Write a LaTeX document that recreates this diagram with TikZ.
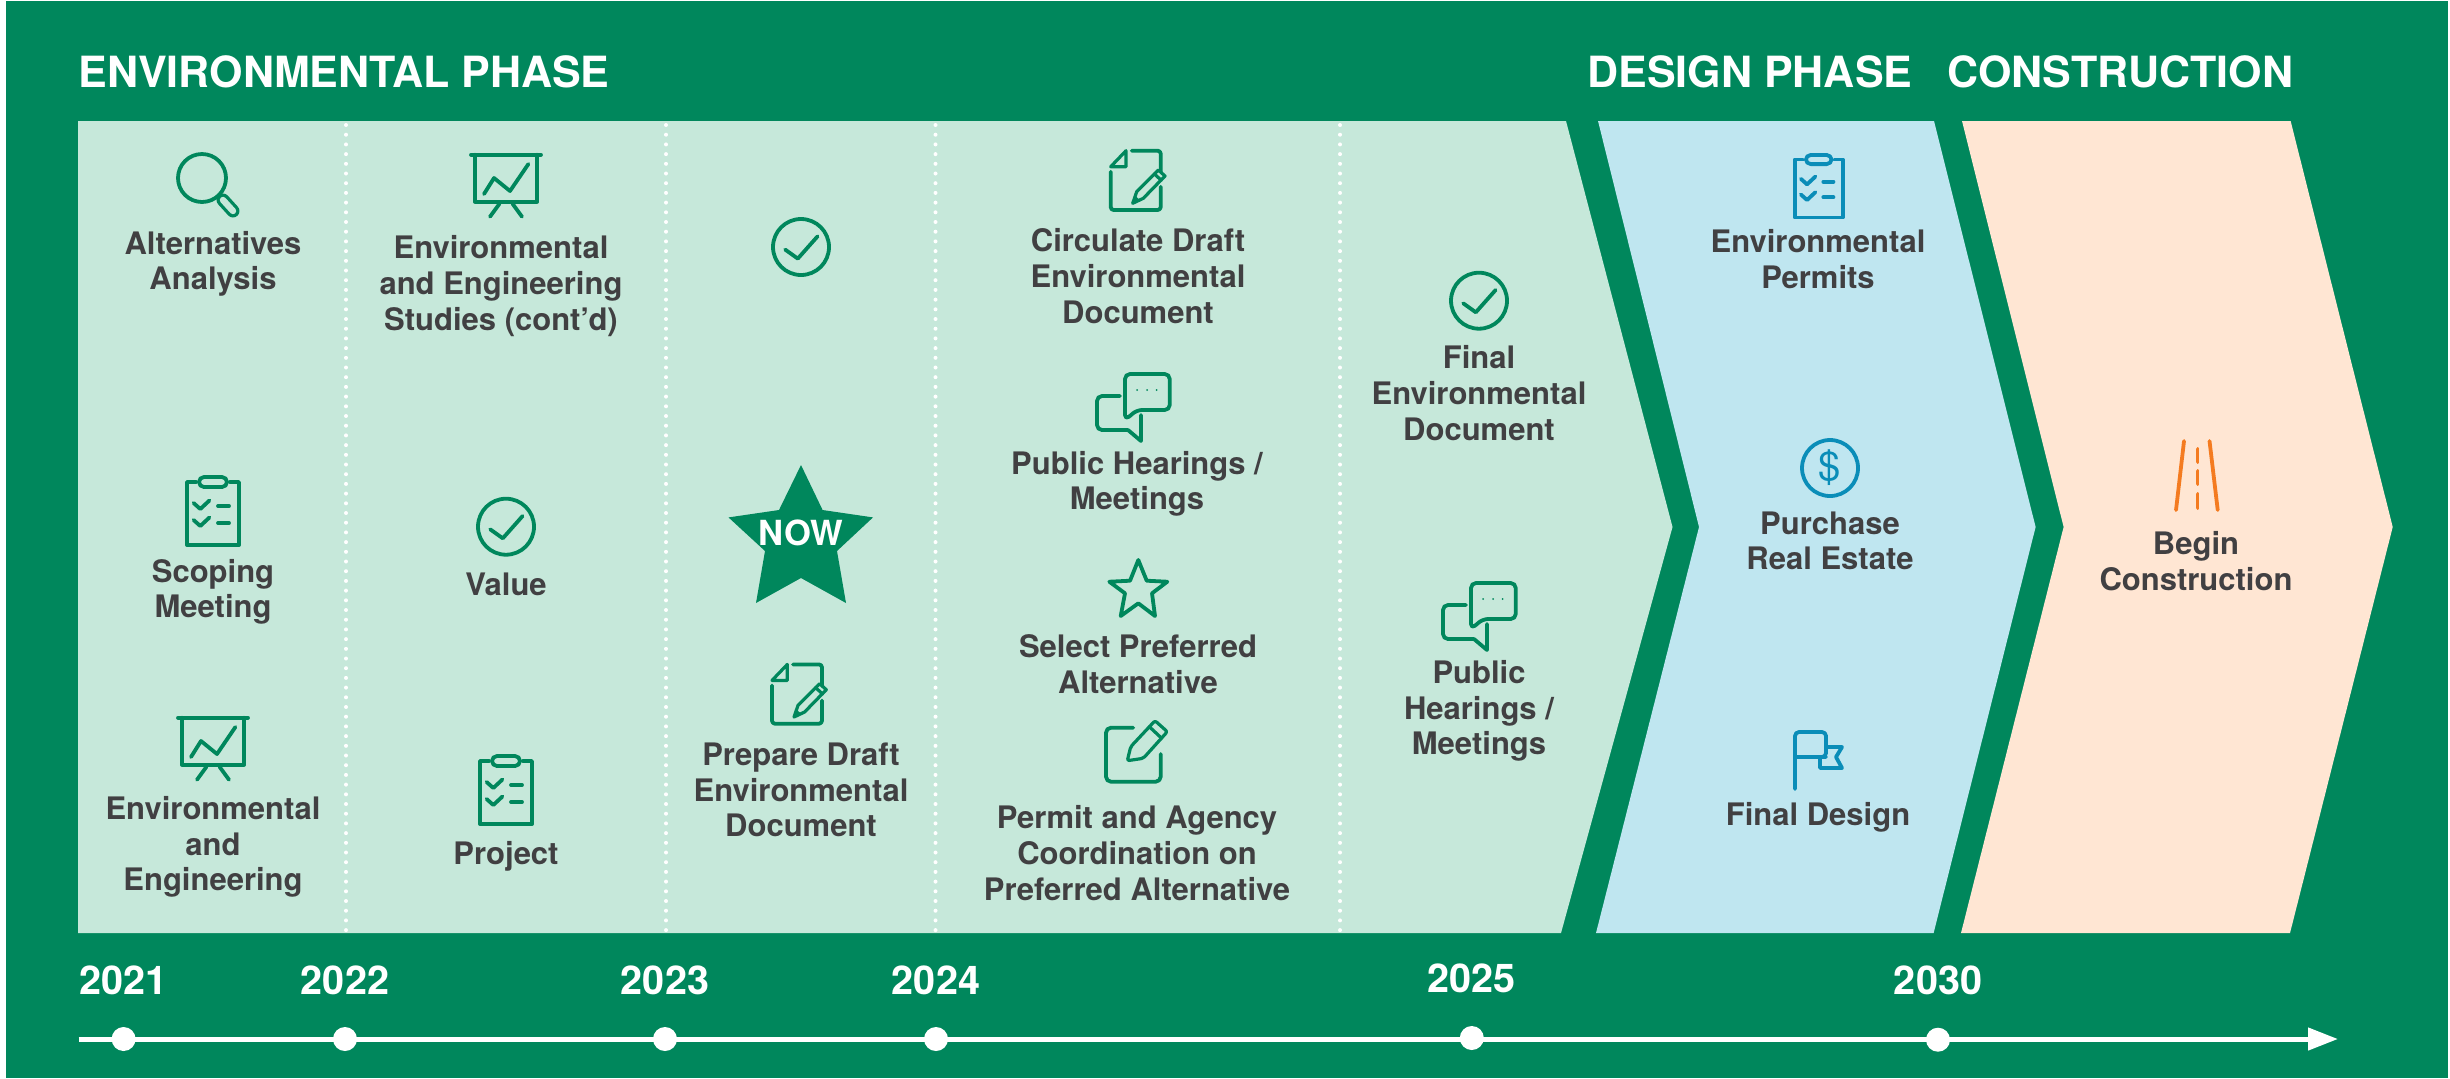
\documentclass[tikz,border=0pt]{standalone}
\usepackage{fontspec}
\setmainfont{TeX Gyre Heros}
\usetikzlibrary{arrows.meta}
\definecolor{bggreen}{RGB}{0,135,92}
\definecolor{panelgreen}{RGB}{198,232,218}
\definecolor{panelblue}{RGB}{191,230,240}
\definecolor{panelpeach}{RGB}{255,230,211}
\definecolor{iconblue}{RGB}{10,141,184}
\definecolor{iconorange}{RGB}{244,123,32}
\definecolor{ink}{RGB}{65,64,66}
\tikzset{
  lab/.style={font=\fontsize{15.5}{17.8}\selectfont\bfseries,align=center,text=ink,inner sep=0pt},
  yearlab/.style={font=\fontsize{19.8}{22}\selectfont\bfseries,text=white,inner sep=0pt},
  headlab/.style={font=\fontsize{21.5}{24}\selectfont\bfseries,text=white,inner sep=0pt,anchor=west},
  nowlab/.style={font=\fontsize{17.3}{18}\selectfont\bfseries,text=white,inner sep=0pt},
  dollarlab/.style={font=\fontsize{20}{22}\selectfont,text=iconblue,inner sep=0pt},
  yeardot/.style={circle,fill=white,inner sep=0pt,minimum size=12pt},
  dotsep/.style={white,line width=2pt,line cap=round,dash pattern=on 0pt off 4.85pt},
  iconline/.style={line width=1.9pt,line join=round,line cap=round,fill=none},
  thinline/.style={line width=1.6pt,line join=round,line cap=round,fill=none},
  pics/boardicon/.style={code={
    \draw[iconline] (-35,0) -- (35,0);
    \draw[iconline] (-31,0) -- (-31,47) -- (31,47) -- (31,0);
    \draw[iconline] (-6.5,49) -- (-16,62);
    \draw[iconline] (6.5,49) -- (16,62);
    \draw[iconline] (-22,39.3) -- (-12,23.3) -- (4,36.3) -- (22.4,9.3);
  }},
  pics/clipicon/.style={code={
    \draw[iconline] (-17,6) -- (-26,6) -- (-26,69) -- (26,69) -- (26,6) -- (17,6);
    \draw[iconline,rounded corners=2.5pt] (-14,11) -- (-14,1) -- (14,1) -- (14,11) -- cycle;
    \draw[iconline] (-19.4,27) -- (-12.7,33) -- (-3.6,24.5);
    \draw[iconline] (-19.4,44) -- (-12.7,50) -- (-3.6,41.5);
    \draw[iconline] (5,30) -- (16,30);
    \draw[iconline] (5,47) -- (16,47);
  }},
  pics/checkicon/.style={code={
    \draw[iconline] (0,0) circle [radius=28];
    \draw[iconline] (-15.8,2.6) -- (-3.2,11.6) -- (16.6,-10.7);
  }},
  pics/docicon/.style={code={
    \draw[thinline] (1,17.4) -- (16.3,1.4) -- (16.3,17.4) -- cycle;
    \draw[iconline,rounded corners=1.5pt] (22,1.4) -- (51,1.4) -- (51,22.7);
    \draw[iconline,rounded corners=1.5pt] (1,22.4) -- (1,60.7) -- (51,60.7) -- (51,37.4);
    \draw[thinline] (23,54) -- (27,42.4) -- (48.6,20.7) -- (55.3,26.7) -- (33.6,49) -- cycle;
    \draw[thinline] (44.6,24.6) -- (51.6,31);
    \fill[bggreen] (23,54) -- (25.5,46.5) -- (30.5,51) -- cycle;
  }},
  pics/editicon/.style={code={
    \draw[iconline,rounded corners=2.5pt] (27.9,7.7) -- (0.6,7.7) -- (0.6,61.7) -- (55.3,61.7) -- (55.3,34);
    \draw[thinline,rounded corners=1pt] (21.9,40.7) -- (25.3,26.7) -- (49.6,0.7) -- (61.9,11.7) -- (37.9,38.3) -- cycle;
    \draw[thinline] (43.9,6.7) -- (56.3,18.3);
  }},
  pics/chaticon/.style={code={
    \draw[iconline,rounded corners=2.5pt] (29,46) -- (29,0) -- (73.7,0) -- (73.7,36) -- (41,36) -- cycle;
    \draw[iconline,rounded corners=2.5pt] (24,22) -- (1,22) -- (1,56) -- (32,56);
    \draw[iconline] (32,56) -- (45,67) -- (45,41);
    \fill[bggreen] (41,16) circle [radius=1] (51,16) circle [radius=1] (60.7,16) circle [radius=1];
  }}
}
\begin{document}
\begin{tikzpicture}[x=0.5pt,y=-0.5pt]
\useasboundingbox (0,0) rectangle (2450,1078);
\fill[white] (0,0) rectangle (2450,1078);
\fill[bggreen] (6,1) rectangle (2448,1078);
% panels
\fill[panelgreen] (78,121) -- (1566,121) -- (1672.5,527) -- (1561,933) -- (78,933) -- cycle;
\fill[panelblue] (1598,121) -- (1934,121) -- (2035.6,527) -- (1933.6,933) -- (1596,933) -- (1699,527) -- cycle;
\fill[panelpeach] (1962,121) -- (2290.6,121) -- (2392.7,527) -- (2290,933) -- (1961,933) -- (2063.6,527) -- cycle;
% dotted separators
\foreach \n/\x in {a/346,b/666,c/935.5,d/1340}{
  \coordinate (sep\n t) at (\x,125);
  \coordinate (sep\n b) at (\x,933);
  \draw[dotsep] (sep\n t) -- (sep\n b);
}
% headers
\node[headlab] (hEnv) at (78,72) {ENVIRONMENTAL PHASE};
\node[headlab] (hDes) at (1587,72) {DESIGN PHASE};
\node[headlab] (hCon) at (1947,72) {CONSTRUCTION};
% column 1
\draw[bggreen,iconline] (202,178) circle [radius=24];
\coordinate (hA) at (223,200);
\coordinate (hB) at (233,211);
\draw[bggreen,line width=6.5pt,line cap=round] (hA) -- (hB);
\draw[panelgreen,line width=3.2pt,line cap=round] (hA) -- (hB);
\node[lab] (t1) at (213,264) {Alternatives\\Analysis};
\pic[bggreen] at (213,476) {clipicon};
\node[lab] (t2) at (213,592) {Scoping\\Meeting};
\pic[bggreen] at (213,717.7) {boardicon};
\node[lab] (t3) at (213,847) {Environmental\\and\\Engineering};
% column 2
\pic[bggreen] at (506,154.7) {boardicon};
\node[lab] (t4) at (501,286) {Environmental\\and Engineering\\Studies (cont’d)};
\pic[bggreen] at (506,526.7) {checkicon};
\node[lab] (t5) at (506,584) {Value};
\pic[bggreen] at (506,755) {clipicon};
\node[lab] (t6) at (506,856) {Project};
% column 3
\pic[bggreen] at (801,247) {checkicon};
\fill[bggreen] (801,465) -- (822.6,510) -- (873,517.4) -- (837,551) -- (846,603) -- (801,578) -- (756,603) -- (765,551) -- (728.5,517.4) -- (779,510) -- cycle;
\node[nowlab] (now) at (801,533) {NOW};
\pic[bggreen] at (771,663) {docicon};
\node[lab] (t7) at (801,790) {Prepare Draft\\Environmental\\Document};
% column 4
\pic[bggreen] at (1109.7,149.3) {docicon};
\node[lab] (t8) at (1138,276) {Circulate Draft\\Environmental\\Document};
\pic[bggreen] at (1096,374) {chaticon};
\node[lab] (t9) at (1137,484) {Public Hearings /\\Meetings};
\draw[bggreen,iconline] (1138.3,560) -- (1146.7,580.7) -- (1167.3,581.7) -- (1152,593.3) -- (1155,616) -- (1138.3,603.3) -- (1120.7,616) -- (1125,593.3) -- (1109.3,581.7) -- (1130,580.7) -- cycle;
\node[lab] (t10) at (1138,664) {Select Preferred\\Alternative};
\pic[bggreen] at (1105.4,720) {editicon};
\node[lab] (t11) at (1137,853) {Permit and Agency\\Coordination on\\Preferred Alternative};
% column 5
\pic[bggreen] at (1479,300.7) {checkicon};
\node[lab] (t12) at (1479,393) {Final\\Environmental\\Document};
\pic[bggreen] at (1442,583) {chaticon};
\node[lab] (t13) at (1479,711) {Public\\Hearings /\\Meetings};
% design phase
\pic[iconblue,scale=0.92] at (1818.7,154) {clipicon};
\node[lab] (t14) at (1818,259) {Environmental\\Permits};
\draw[iconblue,iconline] (1830,468) circle [radius=28];
\node[dollarlab] (dollar) at (1830,468) {\$};
\node[lab] (t15) at (1830,541) {Purchase\\Real Estate};
\draw[iconblue,iconline,rounded corners=2pt] (1795,789) -- (1795,732) -- (1826,732) -- (1826,757) -- (1795,757);
\draw[iconblue,iconline] (1826,747) -- (1842,747) -- (1836,757) -- (1842,768) -- (1820,768) -- (1820,757) -- (1826,757);
\node[lab] (t16) at (1818,817) {Final Design};
% construction
\draw[iconorange,iconline] (2184,441) -- (2176,510);
\draw[iconorange,iconline] (2209.5,441) -- (2217.7,510);
\draw[iconorange,iconline] (2197.5,449) -- (2197.5,462);
\draw[iconorange,iconline] (2197.5,471) -- (2197.5,484);
\draw[iconorange,iconline] (2197.5,494) -- (2197.5,508);
\node[lab] (t17) at (2196,561) {Begin\\Construction};
% timeline
\coordinate (tlStart) at (78.6,1039);
\coordinate (tlEnd) at (2338,1039);
\draw[white,line width=2.5pt,-{Triangle[length=15pt,width=10.9pt]}] (tlStart) -- (tlEnd);
\foreach \n/\x/\y/\yl/\lab in {a/123.6/1039/980/2021,b/345/1039/980/2022,c/665/1039/980/2023,d/936/1039/980/2024,e/1471.8/1038/978/2025,f/1938/1039.7/980/2030}{
  \node[yeardot] (dot\n) at (\x,\y) {};
  \node[yearlab] (year\n) at (\x,\yl) {\lab};
}
\end{tikzpicture}
\end{document}
